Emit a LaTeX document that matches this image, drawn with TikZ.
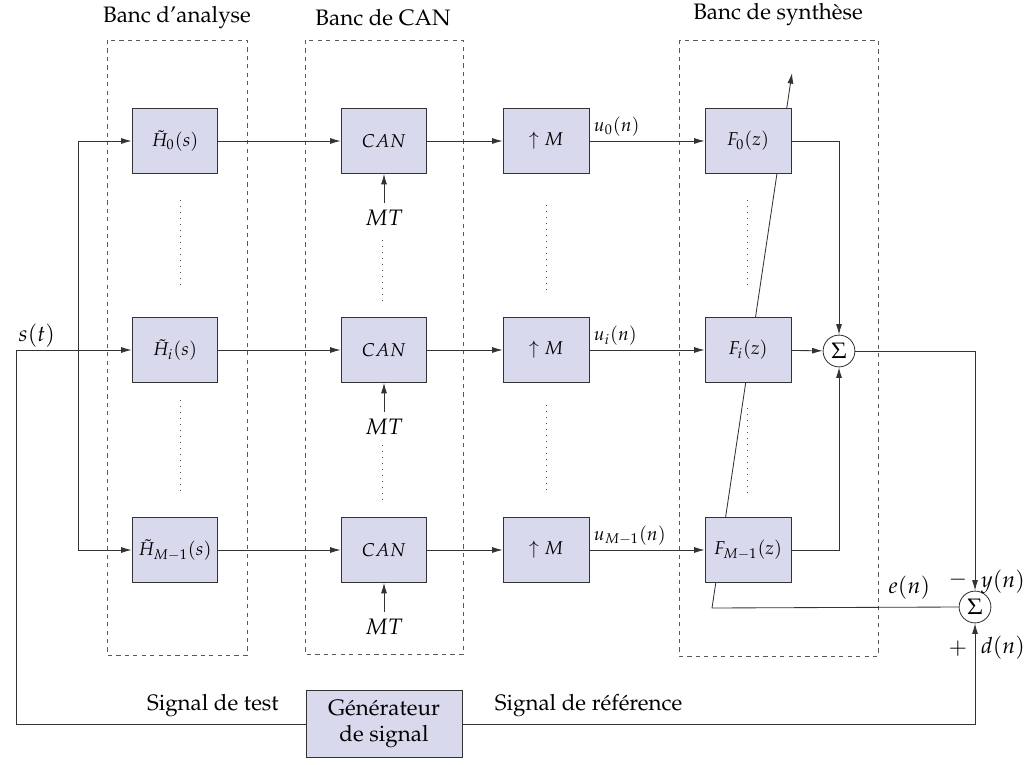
\documentclass[tikz,border=0pt]{standalone}
\usepackage[T1]{fontenc}
\usepackage{mathpazo}
\usepackage{tikz}
\usetikzlibrary{arrows.meta}
\definecolor{bloc lavande}{rgb}{0.851, 0.851, 0.933}
\definecolor{trait gris}{rgb}{0.2, 0.2, 0.2}

\begin{document}
\begin{tikzpicture}[x=0.016667cm, y=-0.016667cm,
		font=\fontsize{10.6}{12.7}\selectfont,
		petit/.style={font=\fontsize{8.8}{10.5}\selectfont},
		bloc/.style={draw=trait gris, fill=bloc lavande, minimum width=1.43cm, minimum height=1.08cm, inner sep=0pt, petit},
		somme/.style={draw=trait gris, circle, minimum size=0.53cm, inner sep=0pt},
		banc/.style={draw=black!65, dash pattern=on 2pt off 2pt},
		pointilles/.style={draw=black!70, dash pattern=on 0.45pt off 2.4pt},
		fleche/.style={draw=trait gris, -{Latex[length=5pt,width=2.8pt]}},
		lien/.style={draw=trait gris}]
			\useasboundingbox (0,0) rectangle (1028,765);
			% cadres des bancs
			\draw[banc] (107,40) rectangle (247,655);
			\draw[banc] (305,40) rectangle (463,654);
			\draw[banc] (679,40) rectangle (878,656);
			\node at (177,18) {Banc d'analyse};
			\node at (383,18) {Banc de CAN};
			\node at (778,15) {Banc de synth\`ese};
			% sommateurs
			\node[somme] (s1) at (839,351) {$\Sigma$};
			\node[somme] (s2) at (975,607) {$\Sigma$};
			% erreur e(n), sous les blocs
			\coordinate (ecoin) at (712,608);
			\coordinate (ehaut) at (792,73);
			\draw[fleche] (s2.west) -- node[pos=0.2, above] {$e(n)$} (ecoin) -- (ehaut);
			% les trois branches
			\foreach \r/\y/\k in {0/141/0, i/350/i, m/550/M-1} {
				\node[bloc] (h\r) at (175,\y) {$\tilde{H}_{\k}(s)$};
				\node[bloc] (can\r) at (384,\y) {$CAN$};
				\node[bloc] (up\r) at (546,\y) {$\uparrow M$};
				\node[bloc] (f\r) at (748,\y) {$F_{\k}(z)$};
				\node (mt\r) at (384,\y+77) {$MT$};
				\draw[fleche] (h\r) -- (can\r);
				\draw[fleche] (can\r) -- (up\r);
				\draw[fleche] (up\r) -- node[pos=0, above right, inner sep=2pt, petit] {$u_{\k}(n)$} (f\r);
				\draw[fleche] (mt\r.north) -- (can\r.south);
			}
			% pointilles entre les branches
			\foreach \x/\a/\b in {180/200/290, 180/400/495, 382/240/305, 382/445/505,
				546/205/290, 546/405/495, 747/200/290, 747/408/495}
				\draw[pointilles] (\x,\a) -- (\x,\b);
			% entree s(t)
			\coordinate (src) at (16,350);
			\coordinate (bif) at (78,350);
			\node[above right, inner sep=1pt] at (src) {$s(t)$};
			\draw[fleche] (src) -- (hi);
			\draw[fleche] (bif) |- (h0);
			\draw[fleche] (bif) |- (hm);
			% generateur
			\node[bloc, minimum width=2.6cm, minimum height=1.12cm, align=center,
				font=\fontsize{10.6}{12.7}\selectfont] (gen) at (384,724)
				{G\'en\'erateur\\de signal};
			\draw[lien] (gen.west) -| node[pos=0.16, above] {Signal de test} (src);
			\draw[fleche] (gen.east) -| node[pos=0.123, above] {Signal de r\'ef\'erence} (s2.south);
			% sommation
			\draw[fleche] (f0.east) -| (s1.north);
			\draw[fleche] (fi) -- (s1);
			\draw[fleche] (fm.east) -| (s1.south);
			\draw[fleche] (s1.east) -| (s2.north);
			\node at (958,580) {$-$};
			\node at (1003,582) {$y(n)$};
			\node at (958,649) {$+$};
			\node at (1003,648) {$d(n)$};
		\end{tikzpicture}
\end{document}
